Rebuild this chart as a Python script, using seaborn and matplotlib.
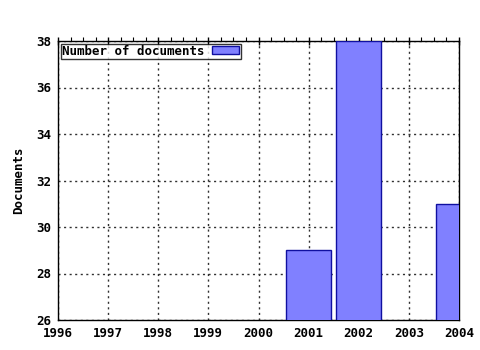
import matplotlib
matplotlib.use("Agg")
import matplotlib.pyplot as plt
import seaborn as sns
import pandas as pd
from matplotlib.ticker import MultipleLocator

years = [2001, 2002, 2004]
documents = [29, 38, 31]
year_ticks = list(range(1996, 2005))
y_ticks = [26, 28, 30, 32, 34, 36, 38]

sns.set_theme(style="white")
plt.rcParams['font.family'] = ['DejaVu Sans Mono']
plt.rcParams['font.weight'] = 'bold'
plt.rcParams['text.color'] = 'black'

df = pd.DataFrame({"year": years, "Number of documents": documents})

fig = plt.figure(figsize=(4.8, 3.5), dpi=100)
ax = fig.add_axes([58/480, 1 - 320/350, (459-58)/480, (320-41)/350])
sns.barplot(data=df, x="year", y="Number of documents", native_scale=True,
            width=0.9, color="#8080ff", edgecolor="#1010a0", linewidth=1,
            saturation=1, ax=ax, label="Number of documents", zorder=3)
ax.set_xlim(1996, 2004)
ax.set_ylim(26, 38)
ax.set_xticks(year_ticks)
ax.set_xticklabels([str(y) for y in year_ticks])
ax.set_yticks(y_ticks)
ax.xaxis.set_minor_locator(MultipleLocator(0.25))
ax.grid(True, which="major", color="#303030", linestyle=(0, (1.5, 2.5)), linewidth=1, zorder=1)
ax.tick_params(axis="x", which="major", direction="inout", length=6, width=1,
               colors="black", labelsize=9, top=True, pad=2)
ax.tick_params(axis="x", which="minor", direction="out", length=3, width=0.8,
               colors="black", top=True)
ax.tick_params(axis="y", which="major", direction="inout", length=6, width=1,
               colors="black", labelsize=9, right=False, pad=2)
ax.tick_params(axis="y", which="minor", left=False, right=False)
for s in ax.spines.values():
    s.set_color("black")
    s.set_linewidth(1)
ax.set_xlabel("")
ax.set_ylabel("Documents", fontsize=9, fontweight="bold", color="black", labelpad=8)
for lab in ax.get_xticklabels() + ax.get_yticklabels():
    lab.set_fontweight("bold")
leg = ax.legend(loc="upper left", markerfirst=False, frameon=True, fancybox=False,
                fontsize=9, borderpad=0.1, handlelength=2.2, handleheight=0.6,
                borderaxespad=0.2, handletextpad=0.6)
leg.get_frame().set_edgecolor("black")
leg.get_frame().set_linewidth(1)
for t in leg.get_texts():
    t.set_fontweight("bold")
    t.set_color("black")
fig.savefig("out.png", dpi=100)
